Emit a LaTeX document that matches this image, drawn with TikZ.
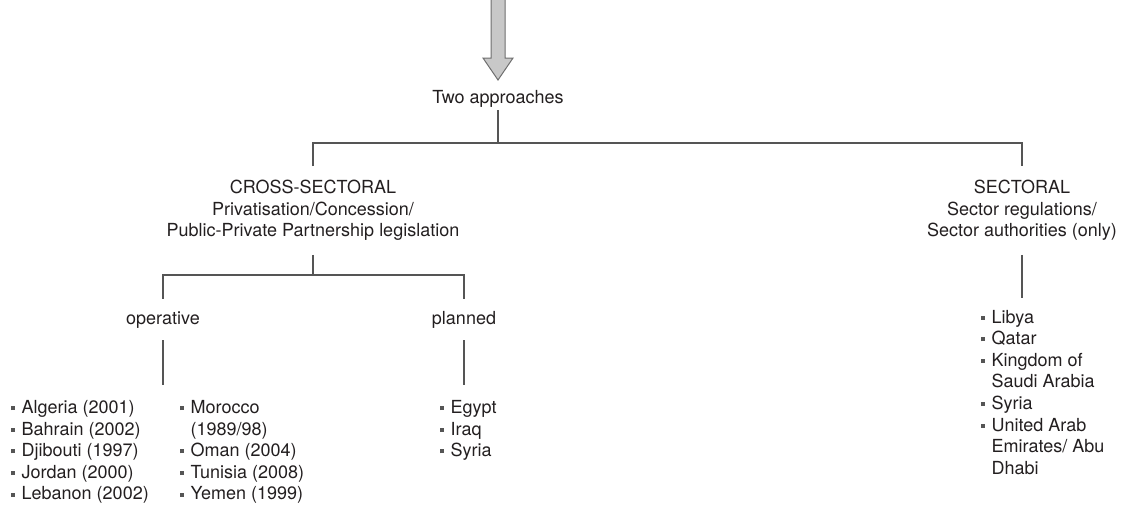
\documentclass[tikz,border=0pt]{standalone}
\usepackage{fontspec}
\setmainfont{TeX Gyre Heros}
\definecolor{linegray}{HTML}{555555}
\definecolor{arrowfill}{HTML}{C8C8C8}
\definecolor{arrowline}{HTML}{6E6E6E}
\definecolor{textc}{HTML}{231F20}
\newcommand\bul{\rule{0pt}{13.3pt}\makebox[10.5pt][l]{\textcolor{linegray}{\rule[3.3pt]{4pt}{4pt}}}}
\newcommand\ind{\rule{0pt}{13.3pt}\hspace*{10.5pt}}
\begin{document}
\begin{tikzpicture}[x=1pt,y=-1pt,
  every node/.style={font=\fontsize{18}{21.6}\selectfont, text=textc, inner sep=0pt},
  single/.style={text height=13pt, text depth=3.8pt},
  conn/.style={draw=linegray, line width=1.2pt},
  lst/.style={align=left, anchor=north west},
  head/.style={align=center, anchor=north, inner ysep=14pt},
  bigarrow/.style={fill=arrowfill, draw=arrowline, line width=1pt, line join=miter}
]
\useasboundingbox (0,0) rectangle (1122,506);

% block arrow
\draw[bigarrow] (491,-3) -- (491,58) -- (483,58) -- (498,80) -- (513,58) -- (505,58) -- (505,-3);

% nodes
\node[single, inner ysep=3pt] (two) at (498,98.5) {Two approaches};
\node[head] (cross) at (313,166) {CROSS-SECTORAL\\Privatisation/Concession/\\Public-Private Partnership legislation};
\node[head] (sect) at (1022,166) {SECTORAL\\Sector regulations/\\Sector authorities (only)};
\node[single, inner ysep=12pt] (oper) at (163,319.5) {operative};
\node[single, inner ysep=12pt] (plan) at (464,319.5) {planned};

\node[lst] (opl1) at (11,400) {\bul Algeria (2001)\\ \bul Bahrain (2002)\\ \bul Djibouti (1997)\\ \bul Jordan (2000)\\ \bul Lebanon (2002)};
\node[lst] (opl2) at (180,400) {\bul Morocco\\ \ind(1989/98)\\ \bul Oman (2004)\\ \bul Tunisia (2008)\\ \bul Yemen (1999)};
\node[lst] (pll) at (440,400) {\bul Egypt\\ \bul Iraq\\ \bul Syria};
\node[lst] (secl) at (981,309.5) {\bul Libya\\ \bul Qatar\\ \bul Kingdom of\\ \ind Saudi Arabia\\ \bul Syria\\ \bul United Arab\\ \ind Emirates/ Abu\\ \ind Dhabi};

% junctions and free ends
\coordinate (j1) at (498,143);
\coordinate (j2) at (313,275);
\coordinate (opend) at (163,385);
\coordinate (plend) at (464,385);
\coordinate (secend) at (1022,298);

% connectors
\draw[conn] (two.south) -- (j1);
\draw[conn] (cross.north) -- (cross.north |- j1) -- (sect.north |- j1) -- (sect.north);
\draw[conn] (cross.south) -- (j2);
\draw[conn] (oper.north) -- (oper.north |- j2) -- (plan.north |- j2) -- (plan.north);
\draw[conn] (oper.south) -- (opend);
\draw[conn] (plan.south) -- (plend);
\draw[conn] (sect.south) -- (secend);
\end{tikzpicture}
\end{document}
